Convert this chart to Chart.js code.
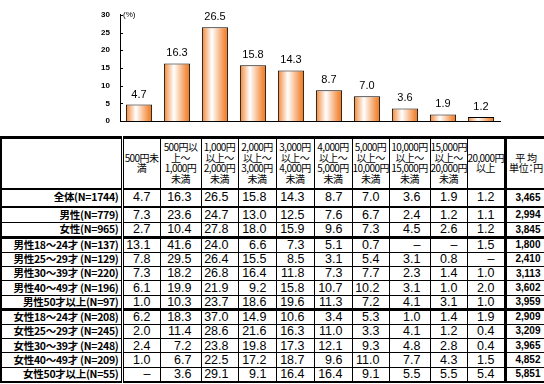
<!DOCTYPE html>
<html lang="ja">
<head>
<meta charset="utf-8">
<title>予算</title>
<script src="https://cdn.jsdelivr.net/npm/chart.js@4.4.1/dist/chart.umd.min.js"></script>
<style>
  body { margin: 0; width: 544px; height: 384px; overflow: hidden; background: #fff; position: relative; }
  #chartBox { position: absolute; left: 0; top: 0; width: 544px; height: 136px; }
  #tbl { position: absolute; left: 0; top: 136px; border-collapse: collapse; table-layout: fixed; width: 545px; }
  #tbl td, #tbl th { border: 1px solid #000; padding: 0; overflow: hidden; }
  #tbl { border-top: 3px solid #000; border-left: 2px solid #000; border-bottom: 2px solid #000; }
  #tbl th { font: 400 10px/10.5px "Noto Sans CJK JP", sans-serif; letter-spacing: -0.6px; text-align: center; vertical-align: middle; border-bottom: 2px solid #000; white-space: nowrap; }
  #tbl td.lbl { font: 700 10.5px/1 "Noto Sans CJK JP", sans-serif; text-align: right; padding-right: 2px; white-space: nowrap; letter-spacing: -0.3px; border-right: 3px double #000; }
  #tbl td.num { font: 12.5px/1 "Liberation Sans", Arial, sans-serif; text-align: right; padding-right: 9px; }
  #tbl td.avg { font: 700 10px/1 "Liberation Sans", Arial, sans-serif; text-align: right; padding-right: 5px; border-left: 3px solid #000; }
  #tbl th.lblh { border-right: 3px double #000; }
  #tbl th.avgh { border-left: 3px solid #000; font-feature-settings: "palt"; letter-spacing: -0.3px; }
</style>
</head>
<body>
<div id="chartBox"><canvas id="chart" width="544" height="136"></canvas></div>
<table id="tbl">
  <colgroup id="cols"></colgroup>
  <thead><tr id="head" style="height:51px"></tr></thead>
  <tbody id="body"></tbody>
</table>
<script>
// categories (price bands) and overall share (%)
const categories = ['500円未満', '500円以上～1,000円未満', '1,000円以上～2,000円未満', '2,000円以上～3,000円未満',
  '3,000円以上～4,000円未満', '4,000円以上～5,000円未満', '5,000円以上～10,000円未満',
  '10,000円以上～15,000円未満', '15,000円以上～20,000円未満', '20,000円以上'];
const shares = [4.7, 16.3, 26.5, 15.8, 14.3, 8.7, 7.0, 3.6, 1.9, 1.2];
const yTicks = [0, 5, 10, 15, 20, 25, 30];

// table header lines (as wrapped in the original)
const headLines = [['500円未', '満'], ['500円以', '上～', '1,000円', '未満'], ['1,000円', '以上～', '2,000円', '未満'],
  ['2,000円', '以上～', '3,000円', '未満'], ['3,000円', '以上～', '4,000円', '未満'], ['4,000円', '以上～', '5,000円', '未満'],
  ['5,000円', '以上～', '10,000円', '未満'], ['10,000円', '以上～', '15,000円', '未満'], ['15,000円', '以上～', '20,000円', '未満'],
  ['20,000円', '以上'], ['平 均', '単位：円']];

// respondent groups, their shares per band and average amount
const groups = ['全体(N=1744)', '男性(N=779)', '女性(N=965)',
  '男性18～24才 (N=137)', '男性25～29才 (N=129)', '男性30～39才 (N=220)', '男性40～49才 (N=196)', '男性50才以上(N=97)',
  '女性18～24才 (N=208)', '女性25～29才 (N=245)', '女性30～39才 (N=248)', '女性40～49才 (N=209)', '女性50才以上(N=55)'];
const groupShares = [
  [4.7, 16.3, 26.5, 15.8, 14.3, 8.7, 7.0, 3.6, 1.9, 1.2],
  [7.3, 23.6, 24.7, 13.0, 12.5, 7.6, 6.7, 2.4, 1.2, 1.1],
  [2.7, 10.4, 27.8, 18.0, 15.9, 9.6, 7.3, 4.5, 2.6, 1.2],
  [13.1, 41.6, 24.0, 6.6, 7.3, 5.1, 0.7, null, null, 1.5],
  [7.8, 29.5, 26.4, 15.5, 8.5, 3.1, 5.4, 3.1, 0.8, null],
  [7.3, 18.2, 26.8, 16.4, 11.8, 7.3, 7.7, 2.3, 1.4, 1.0],
  [6.1, 19.9, 21.9, 9.2, 15.8, 10.7, 10.2, 3.1, 1.0, 2.0],
  [1.0, 10.3, 23.7, 18.6, 19.6, 11.3, 7.2, 4.1, 3.1, 1.0],
  [6.2, 18.3, 37.0, 14.9, 10.6, 3.4, 5.3, 1.0, 1.4, 1.9],
  [2.0, 11.4, 28.6, 21.6, 16.3, 11.0, 3.3, 4.1, 1.2, 0.4],
  [2.4, 7.2, 23.8, 19.8, 17.3, 12.1, 9.3, 4.8, 2.8, 0.4],
  [1.0, 6.7, 22.5, 17.2, 18.7, 9.6, 11.0, 7.7, 4.3, 1.5],
  [null, 3.6, 29.1, 9.1, 16.4, 16.4, 9.1, 5.5, 5.5, 5.4]
];
const groupAvg = ['3,465', '2,994', '3,845', '1,800', '2,410', '3,113', '3,602', '3,959', '2,909', '3,209', '3,965', '4,852', '5,851'];

// layout of the table
const colW = [121, 38, 41, 37, 38, 38, 38, 37, 41, 37, 38, 41];
const rowH = [18, 16, 15, 14.4, 14.4, 14.4, 14.4, 14.4, 14.4, 14.4, 14.4, 14.4, 14.4];
const heavyAfter = { 0: '2px solid #000', 2: '3px solid #000', 7: '3px solid #000' };

const cols = document.getElementById('cols');
colW.forEach(w => { const c = document.createElement('col'); c.style.width = w + 'px'; cols.appendChild(c); });

const head = document.getElementById('head');
const blank = document.createElement('th'); blank.className = 'lblh'; head.appendChild(blank);
headLines.forEach((lines, i) => {
  const th = document.createElement('th');
  if (i === headLines.length - 1) th.className = 'avgh';
  lines.forEach((t, k) => { if (k) th.appendChild(document.createElement('br')); th.appendChild(document.createTextNode(t)); });
  head.appendChild(th);
});

const body = document.getElementById('body');
groups.forEach((g, i) => {
  const tr = document.createElement('tr');
  tr.style.height = rowH[i] + 'px';
  const cells = [];
  const lbl = document.createElement('td'); lbl.className = 'lbl'; lbl.textContent = g; cells.push(lbl);
  groupShares[i].forEach(v => {
    const td = document.createElement('td'); td.className = 'num';
    td.textContent = v === null ? '–' : v.toFixed(1);
    cells.push(td);
  });
  const avg = document.createElement('td'); avg.className = 'avg'; avg.textContent = groupAvg[i]; cells.push(avg);
  cells.forEach(td => { if (heavyAfter[i]) td.style.borderBottom = heavyAfter[i]; tr.appendChild(td); });
  body.appendChild(tr);
});

const barPct = 0.69;

const extras = {
  id: 'extras',
  afterDatasetsDraw(chart) {
    const { ctx, chartArea } = chart;
    const sy = chart.scales.y;
    const meta = chart.getDatasetMeta(0);
    ctx.save();
    ctx.fillStyle = '#000';
    ctx.font = '11px "Liberation Sans", Arial, sans-serif';
    ctx.textAlign = 'center';
    ctx.textBaseline = 'alphabetic';
    meta.data.forEach((bar, i) => {
      ctx.fillText(shares[i].toFixed(1), bar.x, bar.y - 7);
    });
    // small tick marks on the inner side of the y axis
    ctx.strokeStyle = '#000';
    ctx.lineWidth = 1;
    yTicks.forEach(v => {
      const y = Math.round(sy.getPixelForValue(v)) + 0.5;
      ctx.beginPath();
      ctx.moveTo(chartArea.left, y);
      ctx.lineTo(chartArea.left + 3, y);
      ctx.stroke();
    });
    ctx.font = '8px "Liberation Sans", Arial, sans-serif';
    ctx.textAlign = 'left';
    ctx.textBaseline = 'middle';
    ctx.fillText('(%)', chartArea.left + 3, sy.getPixelForValue(30));
    ctx.restore();
  }
};

new Chart(document.getElementById('chart'), {
  type: 'bar',
  data: {
    labels: categories,
    datasets: [{
      data: shares,
      borderColor: '#000',
      borderWidth: 1,
      categoryPercentage: 1,
      barPercentage: barPct,
      backgroundColor: (c) => {
        const chart = c.chart;
        const sx = chart.scales.x;
        if (!sx || c.dataIndex === undefined) return '#f39a55';
        const cx = sx.getPixelForValue(c.dataIndex);
        const half = (sx.width / categories.length) * barPct / 2;
        if (!Number.isFinite(cx) || !Number.isFinite(half) || half <= 0) return '#f39a55';
        const g = chart.ctx.createLinearGradient(cx - half, 0, cx + half, 0);
        g.addColorStop(0, '#f28633');
        g.addColorStop(0.38, '#ffffff');
        g.addColorStop(0.85, '#f39147');
        g.addColorStop(1, '#ee7a24');
        return g;
      }
    }]
  },
  options: {
    responsive: false,
    animation: false,
    layout: { padding: { left: 0, right: 44, top: 10, bottom: 7 } },
    plugins: { legend: { display: false }, tooltip: { enabled: false } },
    scales: {
      x: {
        ticks: { display: false },
        grid: { display: false, drawTicks: false },
        border: { display: true, color: '#000', width: 1 },
        afterFit: (s) => { s.height = 0; }
      },
      y: {
        min: 0,
        max: 30,
        afterBuildTicks: (s) => { s.ticks = yTicks.map(v => ({ value: v })); },
        ticks: {
          padding: 10,
          color: '#000',
          font: { family: '"Liberation Sans Narrow", "Liberation Sans", Arial', size: 8, weight: 'bold' }
        },
        grid: { display: false, drawTicks: false },
        border: { display: true, color: '#000', width: 1 },
        afterFit: (s) => { s.width = 120; }
      }
    }
  },
  plugins: [extras]
});
</script>
</body>
</html>
